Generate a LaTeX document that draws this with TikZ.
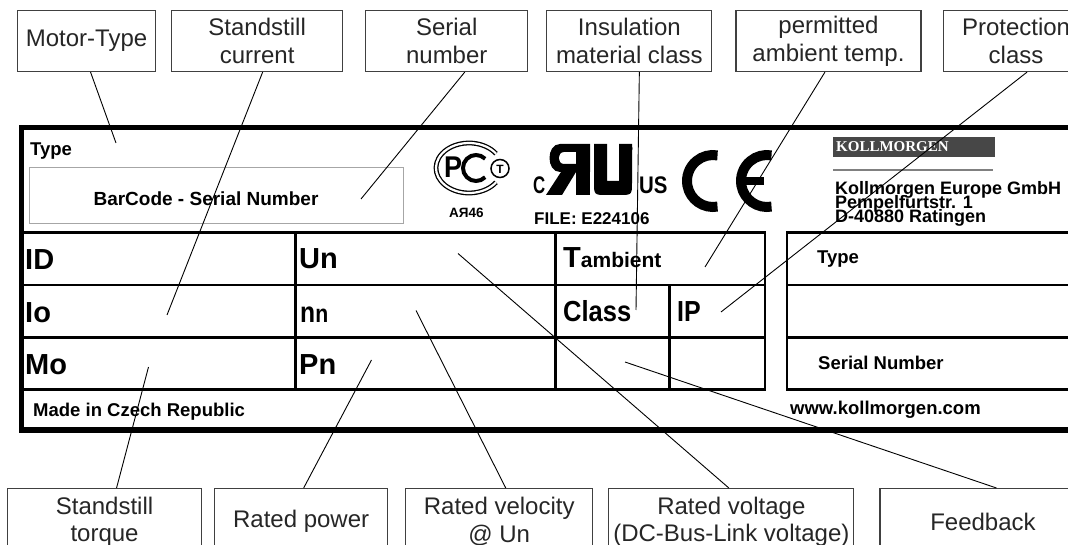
\documentclass[tikz,border=0pt]{standalone}
\usepackage{fontspec}
\setmainfont{Liberation Sans}
\newfontfamily\logoserif{Liberation Serif}
\usetikzlibrary{positioning}

\newcommand\tagfont{\fontsize{24}{27.5}\selectfont}
\newcommand\platefont{\fontsize{18.5}{20}\selectfont\bfseries}
\newcommand\cellfont{\fontsize{29}{30}\selectfont\bfseries}

\tikzset{
  tag/.style={draw=black!75, line width=1.1pt, fill=white, inner sep=0pt,
    minimum height=61pt, align=center, font=\tagfont, text=black!85},
  pointer/.style={line width=0.9pt},
  gridline/.style={line width=2.4pt, line cap=rect},
  platetext/.style={anchor=base west, inner sep=0pt, font=\platefont},
  celltext/.style={anchor=base west, inner sep=0pt, font=\cellfont},
}

\begin{document}
\begin{tikzpicture}[x=1pt, y=-1pt]
\useasboundingbox (0,0) rectangle (1068,545);
\clip (0,0) rectangle (1068,545);
\fill[white] (0,0) rectangle (1068,545);

% Rating plate
\draw[line width=5.5pt] (21.5,127.5) rectangle (1110,430);
\draw[gray!70, line width=1pt] (29,168) rectangle (403,224);
\foreach \y in {232.5,285,337.5,389.5} {
  \draw[gridline] (23,\y) -- (765,\y);
  \draw[gridline] (787,\y) -- (1110,\y);
}
\foreach \x in {295.5,555.5,765,787}
  \draw[gridline] (\x,232.5) -- (\x,389.5);
\draw[gridline] (669.5,285) -- (669.5,389.5);

% Plate texts
\node[platetext] (typetop) at (30,156) {Type};
\node[platetext, anchor=center, font=\fontsize{19}{20}\selectfont\bfseries] (barcode) at (206,199) {BarCode - Serial Number};
\node[platetext] (made) at (33,416) {Made in Czech Republic};
\node[platetext] (web) at (790,414) {www.kollmorgen.com};
\node[platetext] (typeright) at (817,264) {Type};
\node[platetext] (serialright) at (818,369.5) {Serial Number};

\node[celltext] (id) at (25,270) {ID};
\node[celltext] (io) at (25,322.5) {Io};
\node[celltext] (mo) at (25,374.5) {Mo};
\node[celltext] (un) at (299,269) {Un};
\node[celltext] (nn) at (300,322.5) {\scalebox{0.85}[1]{n}\scalebox{0.85}[1]{\fontsize{25}{25}\selectfont n}};
\node[celltext] (pn) at (299,374.5) {Pn};
\node[celltext] (tamb) at (563,268) {T{\fontsize{21}{21}\selectfont ambient}};
\node[celltext] (class) at (563,322) {\scalebox{0.88}[1]{Class}};
\node[celltext] (ip) at (677,322) {\scalebox{0.86}[1]{IP}};

% Kollmorgen address
\fill[black!72] (833,137) rectangle (995,157);
\node[anchor=base west, inner sep=0pt, text=white, font=\logoserif\fontsize{15}{15}\selectfont\bfseries] (brand) at (836,152) {KOLLMORGEN};
\draw[gray, line width=2pt] (833,170) -- (993,170);
\node[platetext, font=\fontsize{18}{18}\selectfont\bfseries] (company) at (835,195) {Kollmorgen Europe GmbH};
\node[platetext, font=\fontsize{18}{18}\selectfont\bfseries] (street) at (835,208.5) {Pempelfurtstr. 1};
\node[platetext, font=\fontsize{18}{18}\selectfont\bfseries] (city) at (835,222.5) {D-40880 Ratingen};

% GOST mark
\draw[line width=1.3pt, double distance=2.2pt] (469,168) ++(35:33 and 25) arc (35:325:33 and 25);
\node[anchor=base west, inner sep=0pt, font=\fontsize{30}{30}\selectfont\bfseries] (gostp) at (444,178) {\scalebox{0.9}[1]{P}};
\draw[line width=4pt] (476,168) ++(45:13) arc (45:315:13);
\draw[line width=1.5pt, fill=white] (500,168.5) circle (9);
\node[inner sep=0pt, font=\fontsize{12}{12}\selectfont\bfseries] (gostt) at (500,169) {T};
\node[platetext, font=\fontsize{13.5}{14}\selectfont\bfseries] (gostcode) at (449,218) {АЯ46};

% UL mark
\node[platetext, font=\fontsize{24}{24}\selectfont\bfseries] (ulc) at (533,194) {\scalebox{0.7}[1]{C}};
\fill[even odd rule] (590,144) -- (560,144) .. controls (546,144) and (546,172) .. (560,172) -- (590,172) -- cycle
  (576,152) -- (564,152) .. controls (557,152) and (557,164) .. (564,164) -- (576,164) -- cycle;
\fill (576,144) rectangle (590,195);
\fill (561,172) -- (576,172) -- (562,195) -- (546,195) -- cycle;
\fill (594,144) -- (607,144) -- (607,181) -- (619,181) -- (619,144) -- (632,144) -- (632,182)
  .. controls (632,195) .. (619,195) -- (607,195) .. controls (594,195) .. (594,182) -- cycle;
\node[inner sep=0pt, font=\fontsize{10}{10}\selectfont] (reg) at (629,149) {®};
\node[platetext, font=\fontsize{24}{24}\selectfont\bfseries] (ulus) at (639,194) {\scalebox{0.85}[1]{US}};
\node[platetext, font=\fontsize{17}{17}\selectfont\bfseries] (ulfile) at (534,225) {FILE: E224106};

% CE mark
\draw[line width=10pt] (713,181) ++(80:26) arc (80:280:26);
\draw[line width=10pt] (767,181) ++(80:26) arc (80:280:26);
\draw[line width=8pt] (741,181) -- (764,181);

% Top labels
\node[tag, anchor=north west, minimum width=138pt] (motortype) at (17,10) {Motor-Type};
\node[tag, minimum width=171pt, right=15pt of motortype] (current) {Standstill\\current};
\node[tag, minimum width=162pt, right=22pt of current] (serial) {Serial\\number};
\node[tag, minimum width=165pt, right=18pt of serial] (insul) {Insulation\\material class};
\node[tag, minimum width=185pt, right=23pt of insul] (ambient) {permitted\\ambient temp.};
\node[tag, minimum width=146pt, right=21pt of ambient] (protect) {Protection\\class};

% Bottom labels
\node[tag, anchor=north west, minimum width=194pt, minimum height=66pt] (torque) at (7,488) {Standstill\\torque};
\node[tag, minimum width=173pt, minimum height=66pt, right=12pt of torque] (power) {Rated power};
\node[tag, minimum width=187pt, minimum height=66pt, right=17pt of power] (velocity) {Rated velocity\\@ Un};
\node[tag, minimum width=245pt, minimum height=66pt, right=15pt of velocity] (voltage) {Rated voltage\\(DC-Bus-Link voltage)};
\node[tag, minimum width=206pt, minimum height=66pt, right=25pt of voltage] (feedback) {Feedback};

% Pointer ends
\coordinate (mt-end) at (116,143);
\coordinate (cur-end) at (167,315);
\coordinate (ser-end) at (361,199);
\coordinate (ins-end) at (636,310);
\coordinate (amb-end) at (705,267);
\coordinate (ip-end) at (721,312);
\coordinate (mo-end) at (148.5,367);
\coordinate (pn-end) at (371.5,360);
\coordinate (nn-end) at (416,310.5);
\coordinate (un-end) at (458,253.5);
\coordinate (fb-end) at (625,362);

% Pointers
\draw[pointer] ([xshift=4pt]motortype.south) -- (mt-end);
\draw[pointer] ([xshift=5.5pt]current.south) -- (cur-end);
\draw[pointer] ([xshift=18pt]serial.south) -- (ser-end);
\draw[pointer] ([xshift=10pt]insul.south) -- (ins-end);
\draw[pointer] ([xshift=-3.5pt]ambient.south) -- (amb-end);
\draw[pointer] ([xshift=11pt]protect.south) -- (ip-end);
\draw[pointer] ([xshift=12pt]torque.north) -- (mo-end);
\draw[pointer] ([xshift=2.5pt]power.north) -- (pn-end);
\draw[pointer] ([xshift=6.5pt]velocity.north) -- (nn-end);
\draw[pointer] ([xshift=-2.5pt]voltage.north) -- (un-end);
\draw[pointer] ([xshift=13.5pt]feedback.north) -- (fb-end);
\end{tikzpicture}
\end{document}
